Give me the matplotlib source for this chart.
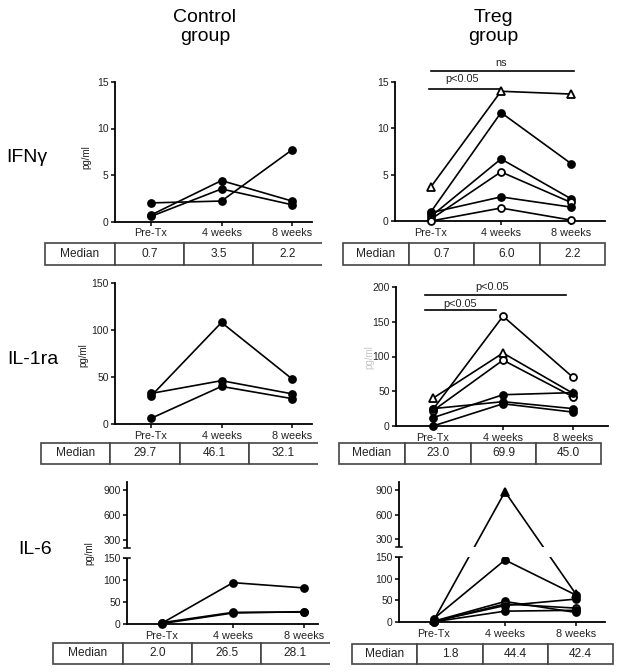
import numpy as np
import matplotlib
matplotlib.use('Agg')
import matplotlib.pyplot as plt

plt.rcParams['font.family'] = ['Liberation Sans', 'DejaVu Sans']

W, H = 621, 672
timepoints = ['Pre-Tx', '4 weeks', '8 weeks']

# IFN-gamma, pg/ml (one list per patient: Pre-Tx, 4 weeks, 8 weeks)
ctrl_ifng = [[2.0, 2.2, 7.7], [0.7, 4.4, 2.2], [0.55, 3.5, 1.8]]
treg_ifng = [[3.7, 14.0, 13.7], [1.0, 11.7, 6.2], [0.5, 6.7, 2.4],
             [0.2, 5.3, 2.0], [0.9, 2.6, 1.5], [0.0, 1.4, 0.1]]
# IL-1ra, pg/ml
ctrl_il1ra = [[32.5, 46.1, 32.1], [29.7, 108.0, 48.0], [6.0, 40.0, 27.0]]
treg_il1ra = [[40.0, 105.0, 47.0], [24.0, 158.0, 70.0], [22.0, 94.8, 42.0],
              [12.0, 45.0, 48.0], [25.0, 35.0, 25.0], [0.0, 32.0, 20.0]]
# IL-6, pg/ml
ctrl_il6 = [[2.0, 94.0, 82.0], [3.0, 26.5, 27.0], [1.0, 25.0, 28.1]]
treg_il6 = [[5.0, 880.0, 64.0], [8.0, 143.0, 62.0], [2.0, 47.3, 22.0],
            [1.0, 41.5, 32.0], [1.6, 38.0, 52.8], [0.5, 25.0, 27.0]]

# medians shown in the tables
med_ctrl_ifng = ['0.7', '3.5', '2.2']
med_treg_ifng = ['0.7', '6.0', '2.2']
med_ctrl_il1ra = ['29.7', '46.1', '32.1']
med_treg_il1ra = ['23.0', '69.9', '45.0']
med_ctrl_il6 = ['2.0', '26.5', '28.1']
med_treg_il6 = ['1.8', '44.4', '42.4']

# marker style per patient line
ctrl_marks = ['o', 'o', 'o']
ctrl_open = [False, False, False]
treg_ifng_marks = ['^', 'o', 'o', 'o', 'o', 'o']
treg_ifng_open = [True, False, False, True, False, True]
treg_il1ra_marks = ['^', 'o', 'o', 'o', 'o', 'o']
treg_il1ra_open = [True, True, True, False, False, False]
treg_il6_marks = ['^', 'o', 'o', 'o', 'o', 'o']
treg_il6_open = [False, False, False, True, False, False]

# significance brackets: (x start, x end, bar y, text x, text y, label)
sig_ifng = [(0.0, 2.04, 16.2, 1.0, 17.1, 'ns'),
            (-0.03, 0.98, 14.25, 0.45, 15.3, 'p<0.05')]
sig_il1ra = [(-0.11, 1.9, 188.5, 0.84, 200, 'p<0.05'),
             (-0.11, 0.9, 167.0, 0.39, 175.5, 'p<0.05')]

TXT = '#222222'
fig = plt.figure(figsize=(W / 100, H / 100), dpi=100)


# broken y axis for IL-6: 0-150 and 200-1000 drawn on equal heights
def il6_fwd(y):
    y = np.asarray(y, dtype=float)
    return np.where(y <= 150, y * 66 / 150,
                    np.where(y <= 200, 66 + (y - 150) * 10 / 50,
                             76 + (y - 200) * 66 / 800))


def il6_inv(v):
    v = np.asarray(v, dtype=float)
    return np.where(v <= 66, v * 150 / 66,
                    np.where(v <= 76, 150 + (v - 66) * 5,
                             200 + (v - 76) * 800 / 66))


def panel(px, series, marks, hollow, ylim, yticks, broken=False):
    L, P0, P2, R, top, bottom = px
    ax = fig.add_axes([L / W, 1 - bottom / H, (R - L) / W, (bottom - top) / H])
    unit = (P2 - P0) / 2
    if broken:
        ax.set_yscale('function', functions=(il6_fwd, il6_inv))
    for vals, m, hol in zip(series, marks, hollow):
        ax.plot(range(len(timepoints)), vals, color='k', lw=1.2,
                marker=m, ms=5.5 if m == '^' else 5,
                mfc='white' if hol else 'k', mec='k', mew=1.3,
                clip_on=False, zorder=3)
    ax.set_xlim((L - P0) / unit, (R - P0) / unit)
    ax.set_ylim(*ylim)
    ax.set_yticks(yticks)
    ax.set_yticklabels([str(t) for t in yticks])
    ax.set_xticks(range(len(timepoints)))
    ax.set_xticklabels(timepoints)
    for s in ['top', 'right']:
        ax.spines[s].set_visible(False)
    for s in ['left', 'bottom']:
        ax.spines[s].set_linewidth(1.3)
    ax.tick_params(direction='out', length=3, width=1.1, colors='k',
                   labelcolor=TXT, labelsize=7.5, pad=1.5)
    ax.tick_params(axis='x', labelsize=7.8, pad=2)
    if broken:
        ax.axhspan(150, 200, xmin=-0.015, xmax=1, color='white', lw=0,
                   zorder=4, clip_on=False)
        tr = ax.get_yaxis_transform()
        d = 3.0 / (R - L)
        for yb in (150, 200):
            ax.plot([-d, d], [yb, yb], color='k', lw=1.1, transform=tr,
                    clip_on=False, zorder=5)
    return ax


def sig(ax, brackets):
    for x0, x1, yb, xt, yt, lab in brackets:
        ax.plot([x0, x1], [yb, yb], color='k', lw=1.2, clip_on=False)
        ax.text(xt, yt, lab, ha='center', va='center', fontsize=7.8, color=TXT)


def table(edges, top, bottom, vals, open_right):
    ax = fig.add_axes([edges[0] / W, 1 - bottom / H,
                       (edges[-1] - edges[0]) / W, (bottom - top) / H])
    ax.axis('off')
    widths = np.diff(edges) / (edges[-1] - edges[0])
    tb = ax.table(cellText=[['Median'] + vals], colWidths=list(widths),
                  cellLoc='center', bbox=[0, 0, 1, 1])
    tb.auto_set_font_size(False)
    for (r, c), cell in tb.get_celld().items():
        cell.set_edgecolor('#444444')
        cell.set_linewidth(1.2)
        cell.get_text().set_fontsize(8.6)
        cell.get_text().set_color(TXT)
        if open_right and c == 3:
            cell.visible_edges = 'BLT'


# IFN-gamma row
axA = panel((115, 151, 292, 312, 82, 221.5), ctrl_ifng, ctrl_marks, ctrl_open,
            (0, 15), [0, 5, 10, 15])
axB = panel((395, 431, 571, 605, 82, 221), treg_ifng, treg_ifng_marks,
            treg_ifng_open, (0, 15), [0, 5, 10, 15])
sig(axB, sig_ifng)

# IL-1ra row
axC = panel((115, 151, 292, 312, 283, 424), ctrl_il1ra, ctrl_marks, ctrl_open,
            (0, 150), [0, 50, 100, 150])
axD = panel((396, 433, 573, 608, 287, 426), treg_il1ra, treg_il1ra_marks,
            treg_il1ra_open, (0, 200), [0, 50, 100, 150, 200])
sig(axD, sig_il1ra)

# IL-6 row
il6_ticks = [0, 50, 100, 150, 300, 600, 900]
axE = panel((127, 162, 304, 318, 482, 624), ctrl_il6, ctrl_marks, ctrl_open,
            (0, 1000), il6_ticks, broken=True)
axF = panel((399, 434, 576, 605, 482, 622), treg_il6, treg_il6_marks,
            treg_il6_open, (0, 1000), il6_ticks, broken=True)

# median tables
table([45, 115, 184, 253, 322], 243, 265, med_ctrl_ifng, True)
table([343, 409, 474, 540, 605], 243, 265, med_treg_ifng, False)
table([41, 110, 180, 249, 318], 443, 464, med_ctrl_il1ra, True)
table([339, 405, 471, 536, 601], 443, 464, med_treg_il1ra, False)
table([53, 123, 192, 261, 330], 643, 664, med_ctrl_il6, True)
table([352, 417, 483, 548, 613], 644, 664, med_treg_il6, False)

# y axis labels
for x, y, col in [(86, 157, TXT), (83, 355, TXT), (89, 553, TXT),
                  (369, 357, '#c8c8c8')]:
    fig.text(x / W, 1 - y / H, 'pg/ml', rotation=90, ha='center', va='center',
             fontsize=7, color=col)

# column headers and row labels
fig.text(205 / W, 1 - 27 / H, 'Control\ngroup', ha='center', va='center',
         fontsize=14, linespacing=1.15, color='k')
fig.text(493 / W, 1 - 27 / H, 'Treg\ngroup', ha='center', va='center',
         fontsize=14, linespacing=1.15, color='k')
for x, y, lab in [(27, 157, 'IFNγ'), (33, 360, 'IL-1ra'), (35, 549, 'IL-6')]:
    fig.text(x / W, 1 - y / H, lab, ha='center', va='center', fontsize=14,
             color='k')

fig.savefig('out.png', dpi=100, facecolor='white')
